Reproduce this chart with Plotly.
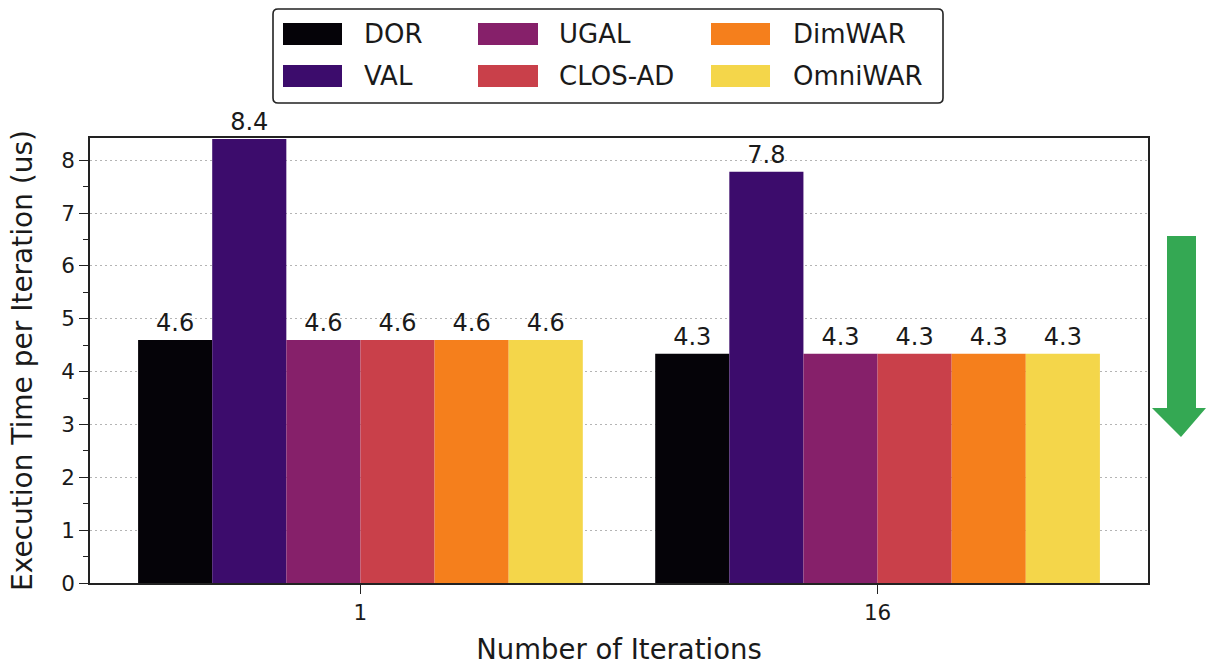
import plotly.graph_objects as go

# ---------------- data ----------------
categories = ["1", "16"]
series_names = ["DOR", "VAL", "UGAL", "CLOS-AD", "DimWAR", "OmniWAR"]
dor = [4.6, 4.34]
val = [8.4, 7.78]
ugal = [4.6, 4.34]
clos_ad = [4.6, 4.34]
dimwar = [4.6, 4.34]
omniwar = [4.6, 4.34]
series_values = [dor, val, ugal, clos_ad, dimwar, omniwar]
colors = ["#050308", "#3c0c6c", "#86206a", "#c9404a", "#f57f1c", "#f4d64a"]

# ---------------- layout geometry (pixels) ----------------
W, H = 1206, 665
ML, MR, MT, MB = 90, 58, 138, 82
PW, PH = W - ML - MR, H - MT - MB
FONT = "DejaVu Sans"
TXT = "#1a1a1a"


def px(x):
    return (x - ML) / PW


def py(y):
    return (H - MB - y) / PH


fig = go.Figure()
for name, vals, col in zip(series_names, series_values, colors):
    fig.add_trace(go.Bar(
        name=name, x=categories, y=vals,
        marker=dict(color=col, line=dict(width=0)),
        texttemplate="%{y:.1f}", textposition="outside",
        textfont=dict(family=FONT, size=24, color=TXT),
        cliponaxis=False, showlegend=False,
    ))

shapes = []
annotations = []

# manual legend (matplotlib-style rounded box, 3 columns x 2 rows)
x0, x1, y0, y1, rr = 273, 943, 9, 103, 5
box = [
    ("M", [(x0 + rr, y0)]), ("L", [(x1 - rr, y0)]), ("Q", [(x1, y0), (x1, y0 + rr)]),
    ("L", [(x1, y1 - rr)]), ("Q", [(x1, y1), (x1 - rr, y1)]),
    ("L", [(x0 + rr, y1)]), ("Q", [(x0, y1), (x0, y1 - rr)]),
    ("L", [(x0, y0 + rr)]), ("Q", [(x0, y0), (x0 + rr, y0)]),
]
bpath = " ".join(cmd + " " + " ".join(f"{px(a):.5f},{py(b):.5f}" for a, b in p) for cmd, p in box) + " Z"
shapes.append(dict(type="path", xref="paper", yref="paper", path=bpath,
                   line=dict(color="#222222", width=1.6), fillcolor="white"))
col_sw = [(283, 342), (478, 538), (711, 770)]
col_tx = [362, 557, 791]
row_y = [34, 76]
for i, (name, col) in enumerate(zip(series_names, colors)):
    c, r = i // 2, i % 2
    yc = row_y[r]
    shapes.append(dict(type="rect", xref="paper", yref="paper",
                       x0=px(col_sw[c][0]), x1=px(col_sw[c][1]),
                       y0=py(yc + 11), y1=py(yc - 11),
                       line=dict(width=0), fillcolor=col))
    annotations.append(dict(text=name, xref="paper", yref="paper",
                            x=px(col_tx[c]), y=py(yc), xanchor="left", yanchor="middle",
                            showarrow=False,
                            font=dict(family=FONT, size=26, color=TXT)))

# green downward arrow on the right
pts = [(1167, 236), (1196, 236), (1196, 408), (1206, 408), (1181, 437),
       (1152, 408), (1167, 408)]
path = "M " + " L ".join(f"{px(x):.5f},{py(y):.5f}" for x, y in pts) + " Z"
shapes.append(dict(type="path", xref="paper", yref="paper", path=path,
                   fillcolor="#34a853", line=dict(width=0)))

fig.update_layout(
    width=W, height=H,
    margin=dict(l=ML, r=MR, t=MT, b=MB, autoexpand=False),
    paper_bgcolor="white", plot_bgcolor="white",
    barmode="group", bargap=0.14, bargroupgap=0,
    font=dict(family=FONT, color=TXT),
    shapes=shapes, annotations=annotations,
    xaxis=dict(
        type="category", range=[-0.523, 1.523],
        showline=True, mirror=True, linecolor="#222222", linewidth=1.6,
        ticks="outside", ticklen=9, tickwidth=1.3, tickcolor="#222222",
        tickfont=dict(family=FONT, size=21.5, color=TXT),
        showgrid=False, zeroline=False,
        title=dict(text="Number of Iterations", standoff=23,
                   font=dict(family=FONT, size=27.5, color=TXT)),
    ),
    yaxis=dict(
        range=[0, 8.42], dtick=1, tick0=0,
        showline=True, mirror=True, linecolor="#222222", linewidth=1.6,
        ticks="outside", ticklen=9, tickwidth=1.3, tickcolor="#222222",
        tickfont=dict(family=FONT, size=21.5, color=TXT),
        showgrid=True, gridcolor="#b4b4b4", griddash="2px,3px", gridwidth=1.3,
        zeroline=False,
        minor=dict(dtick=0.5, ticks="outside", ticklen=5, tickwidth=1.2,
                   tickcolor="#222222", showgrid=False),
        title=dict(text="Execution Time per Iteration (us)", standoff=20,
                   font=dict(family=FONT, size=28, color=TXT)),
    ),
)

fig.write_html("out.html", config={"displayModeBar": False},
               post_script="document.body.style.margin='0';document.body.style.overflow='hidden';")
